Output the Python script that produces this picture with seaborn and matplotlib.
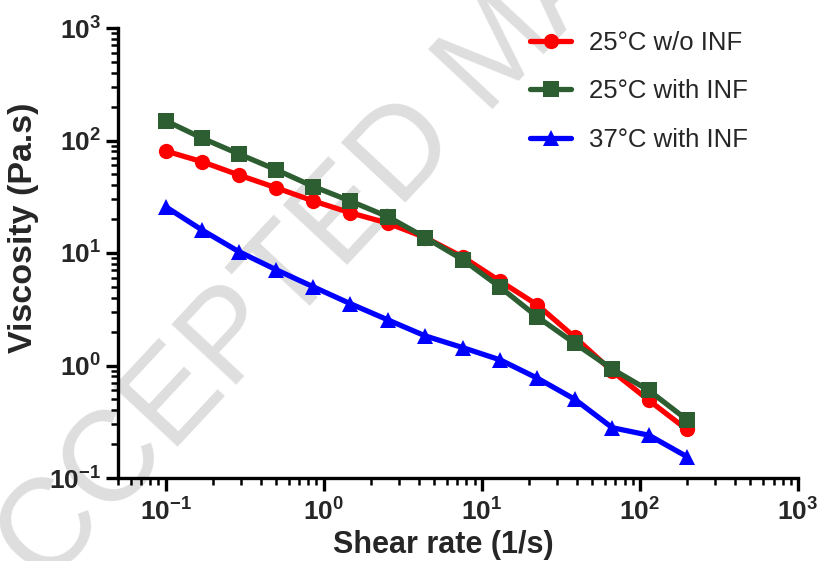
import numpy as np
import pandas as pd
import matplotlib
matplotlib.use('Agg')
import matplotlib.pyplot as plt
import seaborn as sns
from matplotlib.ticker import LogLocator, FuncFormatter, NullFormatter

# values
shear_rate = [0.1, 0.17, 0.29, 0.5, 0.86, 1.47, 2.55, 4.4, 7.6, 13.1, 22.5, 38.8, 66.8, 114, 198]
visc_25_wo_inf = [80.7, 64.8, 49.4, 38.0, 29.0, 22.8, 18.4, 13.7, 9.2, 5.6, 3.45, 1.78, 0.89, 0.49, 0.27]
visc_25_inf = [150, 105, 76, 55, 39, 29, 21, 13.7, 8.7, 4.95, 2.7, 1.57, 0.93, 0.6, 0.33]
visc_37_inf = [25.8, 16.0, 10.3, 7.1, 5.0, 3.55, 2.54, 1.83, 1.44, 1.12, 0.77, 0.5, 0.28, 0.24, 0.155]
series_names = ['25°C w/o INF', '25°C with INF', '37°C with INF']
series_colors = ['#ff0000', '#2d5e32', '#0000ff']
series_markers = ['o', 's', '^']

sns.set_theme(style='ticks')
plt.rcParams['font.family'] = ['Liberation Sans', 'DejaVu Sans']
plt.rcParams['mathtext.fontset'] = 'custom'
plt.rcParams['mathtext.rm'] = 'Liberation Sans:bold'
plt.rcParams['mathtext.bf'] = 'Liberation Sans:bold'

df = pd.DataFrame({
    'Shear rate': shear_rate * 3,
    'Viscosity': visc_25_wo_inf + visc_25_inf + visc_37_inf,
    'Sample': [series_names[0]] * len(shear_rate)
              + [series_names[1]] * len(shear_rate)
              + [series_names[2]] * len(shear_rate),
})

fig = plt.figure(figsize=(8.17, 5.61), dpi=100)
# faint watermark behind the chart
fig.text(-0.045, -0.12, 'ACCEPTED MANUSCRIPT', fontsize=92, color='#dedede',
         rotation=47, rotation_mode='anchor', ha='left', va='center', zorder=-1)

ax = fig.add_axes([118 / 817, 1 - 478 / 561, 680 / 817, 450 / 561])
ax.patch.set_alpha(0)
sns.lineplot(data=df, x='Shear rate', y='Viscosity', hue='Sample', style='Sample',
             hue_order=series_names, style_order=series_names,
             palette=dict(zip(series_names, series_colors)),
             markers=dict(zip(series_names, series_markers)),
             dashes=False, errorbar=None, linewidth=3.8, markersize=11,
             markeredgewidth=0, ax=ax)

ax.set_xscale('log')
ax.set_yscale('log')
ax.set_xlim(0.05, 1000)
ax.set_ylim(0.1, 1000)


def pow10(v, pos):
    return r'$\mathbf{10^{%d}}$' % int(round(np.log10(v)))


for axis in (ax.xaxis, ax.yaxis):
    axis.set_major_locator(LogLocator(base=10, numticks=10))
    axis.set_major_formatter(FuncFormatter(pow10))
    axis.set_minor_locator(LogLocator(base=10, subs=np.arange(2, 10), numticks=20))
    axis.set_minor_formatter(NullFormatter())

sns.despine(ax=ax)
for s in ('left', 'bottom'):
    ax.spines[s].set_linewidth(2.4)
    ax.spines[s].set_color('black')
ax.tick_params(which='major', length=9, width=2.4, color='black', labelsize=19, pad=3)
ax.tick_params(which='minor', length=5, width=1.8, color='black')
ax.tick_params(axis='x', which='major', pad=6)

ax.set_xlabel('Shear rate (1/s)', fontsize=22, fontweight='bold')
ax.set_ylabel('Viscosity (Pa.s)', fontsize=24.5, fontweight='bold')
ax.xaxis.set_label_coords(0.478, -0.115)
ax.yaxis.set_label_coords(-0.116, 0.556)

handles, labels = ax.get_legend_handles_labels()
ax.legend(handles, labels, loc='upper left', bbox_to_anchor=(530 / 817, 1 - 31 / 561),
          bbox_transform=fig.transFigure, frameon=False, fontsize=18.5,
          handlelength=1.6, handletextpad=0.7, labelspacing=0.95,
          borderpad=0, borderaxespad=0)

fig.savefig('out.png', dpi=100)
